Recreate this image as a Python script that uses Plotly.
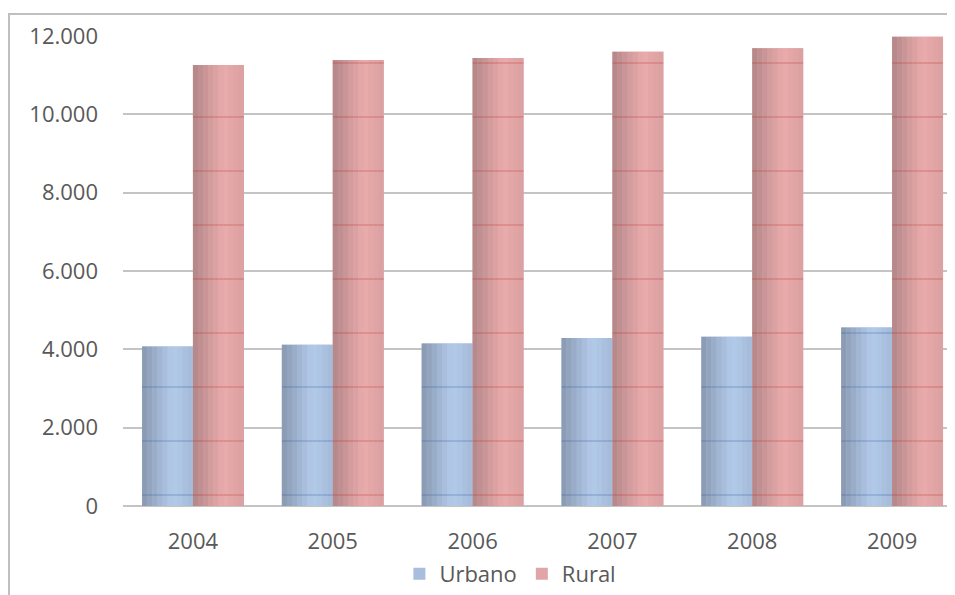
import plotly.graph_objects as go

years = ["2004", "2005", "2006", "2007", "2008", "2009"]
urbano = [4070, 4120, 4150, 4290, 4320, 4560]
rural = [11260, 11390, 11440, 11600, 11690, 11980]
y_ticks = [0, 2000, 4000, 6000, 8000, 10000, 12000]

BAR_W = 0.364
N_STRIPS = 10


def lerp(c1, c2, t):
    return tuple(round(a + (b - a) * t) for a, b in zip(c1, c2))


def grad(left, mid, right, n):
    out = []
    for i in range(n):
        t = (i + 0.5) / n
        if t < 0.6:
            c = lerp(left, mid, t / 0.6)
        else:
            c = lerp(mid, right, (t - 0.6) / 0.4)
        out.append("rgb(%d,%d,%d)" % c)
    return out


series = [
    dict(name="Urbano", values=urbano, offset=-BAR_W, base_col="#a8bedc",
         cols=grad((136, 152, 176), (179, 203, 234), (165, 186, 216), N_STRIPS),
         line_col="rgb(45,85,160)"),
    dict(name="Rural", values=rural, offset=0.0, base_col="#e0a5a6",
         cols=grad((178, 134, 136), (234, 171, 172), (218, 160, 161), N_STRIPS),
         line_col="rgb(190,40,40)"),
]

fig = go.Figure()

# base bars (legend entries)
for s in series:
    fig.add_trace(go.Bar(
        x=years, y=s["values"], name=s["name"],
        offset=s["offset"], width=BAR_W,
        marker=dict(color=s["base_col"], line=dict(width=0)),
        hoverinfo="skip",
    ))

# gradient strips with internal lines
sw = BAR_W / N_STRIPS
for s in series:
    for i, c in enumerate(s["cols"]):
        fig.add_trace(go.Bar(
            x=years, y=s["values"], showlegend=False,
            offset=s["offset"] + i * sw, width=sw * 1.02,
            marker=dict(
                color=c, line=dict(width=0),
                pattern=dict(shape="-", size=54, solidity=0.016,
                             fgcolor=s["line_col"], bgcolor=c),
            ),
            hoverinfo="skip",
        ))

# page has an 8px body margin
fig.update_layout(
    width=947, height=587,
    margin=dict(l=115, r=0, t=28, b=89),
    barmode="overlay",
    plot_bgcolor="white", paper_bgcolor="white",
    separators=",.",
    font=dict(family="Open Sans, Liberation Sans, sans-serif", size=22, color="#595959"),
    showlegend=True,
    legend=dict(orientation="h", x=0.4656, xanchor="center", y=-0.1, yanchor="top",
                font=dict(size=22, color="#595959"), itemwidth=30,
                traceorder="normal"),
    xaxis=dict(
        type="category", range=[-0.5, 5.45],
        showgrid=False, zeroline=False, showline=False,
        ticks="", ticklabelstandoff=20,
        tickfont=dict(size=22, color="#595959"),
    ),
    yaxis=dict(
        range=[0, 12000], tickvals=y_ticks, tickformat=",d",
        showgrid=True, gridcolor="#c4c4c4", gridwidth=2,
        zeroline=True, zerolinecolor="#c4c4c4", zerolinewidth=2,
        showline=False, ticks="", ticklabelstandoff=24,
        tickfont=dict(size=22, color="#595959"),
    ),
    shapes=[
        dict(type="rect", xref="paper", yref="paper",
             x0=(1 - 115) / 832, x1=1.05, y0=-0.3, y1=(498 - 6) / 470,
             line=dict(color="#bfbfbf", width=2), fillcolor="rgba(0,0,0,0)",
             layer="below"),
    ],
)

fig.write_html("out.html")
